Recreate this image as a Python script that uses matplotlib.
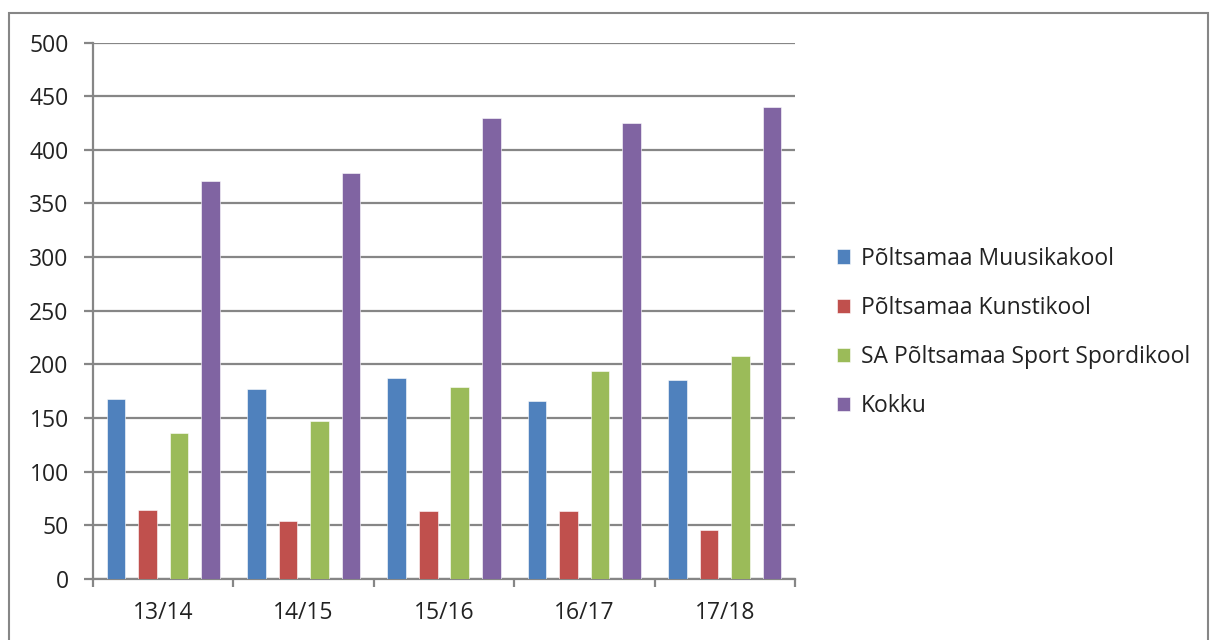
import matplotlib
matplotlib.use("Agg")
import matplotlib.pyplot as plt
import matplotlib.patches as mpatches
import numpy as np

categories = ["13/14", "14/15", "15/16", "16/17", "17/18"]
series_names = ["Põltsamaa Muusikakool", "Põltsamaa Kunstikool",
                "SA Põltsamaa Sport Spordikool", "Kokku"]
muusikakool = [168, 177, 187, 166, 185]
kunstikool = [64, 54, 63, 63, 46]
spordikool = [136, 147, 179, 194, 208]
kokku = [371, 378, 430, 425, 440]
yticks = [0, 50, 100, 150, 200, 250, 300, 350, 400, 450, 500]

colors = ["#4F81BD", "#C0504D", "#9BBB59", "#8064A2"]
grid_c = "#868686"

plt.rcParams['font.family'] = ['Open Sans', 'DejaVu Sans']
FS = 16.5

fig = plt.figure(figsize=(12.19, 6.40), dpi=100)
ax = fig.add_axes([93/1219, 1-579/640, (795-93)/1219, (579-42.5)/640])

x = np.arange(len(categories))
pitch = 0.2244
width = 0.132
all_series = [muusikakool, kunstikool, spordikool, kokku]
for i, (vals, name, c) in enumerate(zip(all_series, series_names, colors)):
    ax.bar(x + (i - 1.5) * pitch, vals, width, color=c, label=name,
           edgecolor="#ffffff", linewidth=0.4, zorder=3)

ax.set_xlim(-0.5, len(categories) - 0.5)
ax.set_ylim(0, 500)
ax.set_yticks(yticks)
ax.set_yticklabels([str(v) for v in yticks])
ax.yaxis.grid(True, color=grid_c, linewidth=1.6, zorder=0)
ax.set_axisbelow(True)

ax.set_xticks(x)
ax.set_xticklabels(categories)
ax.set_xticks(np.arange(-0.5, len(categories)), minor=True)
ax.tick_params(axis='x', which='major', length=0, pad=16, labelsize=FS, colors='#222222')
ax.tick_params(axis='x', which='minor', length=6, width=1.6, color=grid_c, direction='out')
ax.tick_params(axis='y', length=6.5, width=1.6, color=grid_c, pad=11, labelsize=FS,
               labelcolor='#222222')

for s in ['top', 'right']:
    ax.spines[s].set_visible(False)
for s in ['left', 'bottom']:
    ax.spines[s].set_color(grid_c)
    ax.spines[s].set_linewidth(1.6)

leg = fig.legend(loc='center left', bbox_to_anchor=(828/1219, 1 - 332.5/640),
                 frameon=False, fontsize=FS, handlelength=0.58, handleheight=0.58,
                 handletextpad=0.45, labelspacing=1.1, borderaxespad=0)
for t in leg.get_texts():
    t.set_color('#222222')

border = mpatches.Rectangle((9/1219, -0.05), (1208-9)/1219, 1 - 13/640 + 0.05,
                            transform=fig.transFigure, fill=False,
                            edgecolor=grid_c, linewidth=1.5, clip_on=False)
fig.patches.append(border)

fig.savefig("out.png", dpi=100)
